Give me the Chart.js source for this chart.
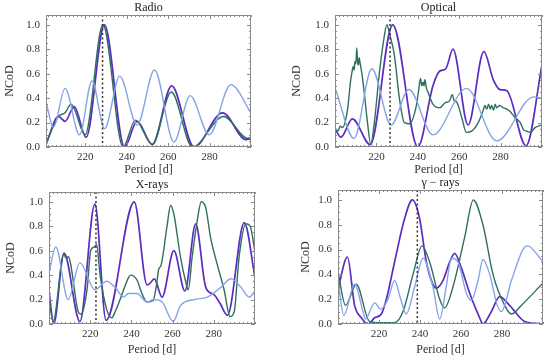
<!DOCTYPE html>
<html>
<head>
<meta charset="utf-8">
<script src="https://cdn.jsdelivr.net/npm/chart.js@4/dist/chart.umd.min.js"></script>
<style>
  body { margin: 0; background: #fff; }
  #wrap { position: relative; width: 550px; height: 360px; overflow: hidden; }
  canvas { position: absolute; }
</style>
</head>
<body>
<div id="wrap">
  <canvas id="radio" width="275" height="180" style="left:0px;top:0px"></canvas>
  <canvas id="optical" width="263" height="180" style="left:287px;top:0px"></canvas>
  <canvas id="xrays" width="274" height="185" style="left:1px;top:175px"></canvas>
  <canvas id="gamma" width="254" height="185" style="left:296px;top:175px"></canvas>
</div>
<script>
// tick labels
const xTicks = [220, 240, 260, 280]
const yTicks = [0, 0.2, 0.4, 0.6, 0.8, 1.0]

// period of the peak (dotted line) per band
const peakRadio = 228.3
const peakOptical = 226.6
const peakXrays = 222.8
const peakGamma = 238.7

// Radio  [period, NCoD]
const radioBlue = [[201,0.37],[204.6,0.16],[210.2,0.48],[217.2,0.10],[223.2,0.54],[229.3,0.15],[236.6,0.58],[245,0.18],[253.4,0.63],[262.8,0.04],[270.6,0.42],[279.8,0.10],[290.3,0.51],[300,0.28]]
const radioGreen = [[201,0.03],[207,0.25],[210.2,0.28],[213.1,0.35],[219.9,0.10],[228.5,1.0],[238.2,0.0],[244.2,0.22],[252.3,0.02],[261.5,0.45],[271.7,0.0],[286.8,0.25],[298.5,0.07],[300,0.08]]
const radioPurple = [[201,0.02],[207,0.25],[210.2,0.21],[214.6,0.33],[220.4,0.08],[229.2,1.0],[238.9,0.0],[245,0.21],[252.3,0.02],[261.7,0.50],[272.5,0.0],[286.3,0.28],[297.6,0.06],[300,0.07]]

// Optical
const opticalBlue = [[200.3,0.47],[209.2,0.07],[217.8,0.64],[227.1,0.18],[235.7,0.47],[247.3,0.10],[263.5,0.48],[278.1,0.05],[296,0.41],[300,0.40]]
const opticalGreen = [[200.3,0.15],[201.5,0.13],[202.5,0.17],[203.6,0.16],[206,0.3],[207.6,0.55],[208.3,0.62],[208.8,0.66],[209.3,0.63],[209.6,0.70],[210.1,0.68],[210.5,0.81],[210.9,0.70],[211.3,0.67],[211.7,0.73],[212,0.70],[213,0.60],[214.1,0.45],[215.7,0.2],[217.3,0.02],[219,0.2],[221.4,0.6],[223.3,0.85],[225.1,1.0],[226.3,0.93],[228.7,0.75],[231.1,0.4],[233.5,0.2],[236,0.19],[239.2,0.33],[240.3,0.45],[241.3,0.56],[241.9,0.50],[242.5,0.53],[243,0.50],[243.4,0.55],[244.2,0.48],[244.9,0.45],[247.3,0.35],[250.6,0.32],[253,0.36],[255.4,0.38],[256.7,0.43],[257.5,0.38],[258.7,0.37],[261.1,0.25],[263.5,0.12],[266,0.13],[269.2,0.2],[271.6,0.3],[272.4,0.34],[273.3,0.31],[274.2,0.35],[275,0.31],[275.7,0.34],[276.6,0.30],[277.4,0.35],[278.1,0.32],[279.5,0.34],[281.4,0.32],[283,0.31],[284.6,0.29],[287,0.24],[289.5,0.2],[291.1,0.14],[292.5,0.13],[294.3,0.12],[296.8,0.16],[300,0.18]]
const opticalPurple = [[200.3,0.14],[202.8,0.08],[208.4,0.23],[217,0.02],[227.9,1.0],[240,0.0],[247.3,0.5],[250.5,0.62],[253.5,0.64],[257,0.80],[264.3,0.18],[271.9,0.78],[276.5,0.55],[279.7,0.47],[283,0.46],[292.3,0.01],[300,0.67]]

// X-rays
const xraysBlue = [[200,0.42],[203.3,0.63],[209.3,0.2],[215,0.5],[222.3,0.28],[228,0.35],[232.1,0.3],[236.2,0.22],[238.6,0.25],[242.7,0.25],[247.6,0.18],[250.8,0.2],[254.9,0.18],[260.3,0.02],[263.8,0.15],[270.4,0.2],[276.9,0.22],[283.4,0.3],[288.3,0.37],[293.2,0.3],[297.2,0.22],[300,0.27]]
const xraysGreen = [[200,0.2],[202,0.02],[207.2,0.57],[208.3,0.54],[209.3,0.55],[214.2,0.1],[215.5,0.08],[218.6,0.3],[220.2,0.6],[222,0.63],[223.1,0.65],[224.8,0.4],[228,0.12],[230.5,0.05],[232.1,0.1],[234.5,0.2],[238.6,0.38],[239.7,0.4],[242.7,0.36],[245.1,0.25],[247.6,0.18],[250.5,0.19],[252,0.3],[253.3,0.45],[254.4,0.48],[257.3,0.8],[259,0.97],[260.6,0.9],[263.8,0.55],[266.3,0.35],[267.6,0.28],[269.5,0.55],[272,0.85],[273.9,1.0],[276.1,0.95],[278.5,0.7],[281.8,0.48],[285,0.28],[287.9,0.06],[289.9,0.1],[292.3,0.55],[295.6,0.82],[297.7,0.8],[300,0.58]]
const xraysPurple = [[200,0.27],[202.3,0.0],[207.3,0.58],[215,0.02],[222.3,0.98],[227.7,0.03],[241.4,1.0],[247.6,0.32],[248.9,0.33],[251.1,0.37],[254.9,0.22],[260.6,0.60],[266,0.27],[271.2,0.82],[276.1,0.30],[280.1,0.24],[283,0.17],[286.6,0.07],[294.8,0.83],[300,0.38]]

// gamma-rays
const gammaBlue = [[200,0.35],[202.8,0.07],[208.1,0.32],[212.2,0.1],[213.3,0.04],[217.9,0.17],[220.8,0.12],[224.4,0.2],[227.6,0.35],[230.6,0.2],[233.3,0.08],[237.4,0.3],[241.5,0.53],[246.3,0.3],[249.6,0.04],[252.8,0.3],[255.3,0.53],[258.5,0.5],[262.6,0.25],[265,0.19],[268.3,0.35],[270.7,0.52],[274,0.4],[277.7,0.15],[279.7,0.1],[284.6,0.35],[290.2,0.6],[292.4,0.63],[300,0.5]]
const gammaGreen = [[200,0.42],[203.7,0.15],[208.9,0.32],[215.4,0.02],[221.1,0.01],[227.6,0.01],[231.7,0.1],[236.6,0.4],[241,0.63],[244.7,0.5],[249.6,0.2],[252,0.13],[256.1,0.3],[261.8,0.7],[266,1.0],[270.7,0.8],[275.6,0.4],[281.3,0.15],[284.6,0.08],[289.4,0.15],[300,0.33]]
const gammaPurple = [[200,0.28],[204.6,0.54],[208.1,0.15],[211.4,0.05],[214.6,0.0],[217.9,0.05],[221.1,0.08],[223.6,0.2],[227.6,0.5],[232.5,0.85],[236.3,1.0],[239.8,0.85],[243.1,0.5],[246.3,0.32],[248,0.29],[251.2,0.35],[254.5,0.5],[256.9,0.57],[260.2,0.45],[264.2,0.25],[269.1,0.05],[270.7,0.0],[274.8,0.1],[278.9,0.22],[283.7,0.15],[291.1,0.02],[300,0.0]]

const colBlue = '#86a4e6'
const colGreen = '#2f6f5f'
const colPurple = '#5a2dc0'
const serif = '"Liberation Serif", "DejaVu Serif", serif'

// box, dotted peak line, minor ticks and panel title
const framePlugin = {
  id: 'frame',
  afterDatasetsDraw(chart, args, opts) {
    const ctx = chart.ctx
    const a = chart.chartArea
    const x = chart.scales.x
    const y = chart.scales.y
    ctx.save()
    const px = x.getPixelForValue(opts.peak)
    ctx.strokeStyle = '#333'
    ctx.lineWidth = 1.5
    ctx.setLineDash([2, 2.5])
    ctx.beginPath()
    ctx.moveTo(px, a.top)
    ctx.lineTo(px, a.bottom)
    ctx.stroke()
    ctx.setLineDash([])

    ctx.strokeStyle = '#8a8a8a'
    ctx.lineWidth = 1
    ctx.strokeRect(a.left + 0.5, a.top + 0.5, a.width - 1, a.height - 1)
    ctx.beginPath()
    for (let d = Math.ceil(x.min / 2) * 2; d <= x.max; d += 2) {
      const p = Math.round(x.getPixelForValue(d)) + 0.5
      const len = xTicks.includes(d) ? 4 : 2
      ctx.moveTo(p, a.bottom); ctx.lineTo(p, a.bottom - len)
      ctx.moveTo(p, a.top); ctx.lineTo(p, a.top + len)
    }
    for (let i = 0; i <= 21; i++) {
      const v = i * 0.05
      const p = Math.round(y.getPixelForValue(v)) + 0.5
      const len = (i % 4 === 0) ? 4 : 2
      ctx.moveTo(a.left, p); ctx.lineTo(a.left + len, p)
      ctx.moveTo(a.right, p); ctx.lineTo(a.right - len, p)
    }
    ctx.stroke()

    ctx.fillStyle = '#222'
    ctx.font = '12px ' + serif
    ctx.textAlign = 'center'
    ctx.textBaseline = 'middle'
    ctx.fillText(opts.title, (a.left + a.right) / 2, a.top - 7)
    ctx.restore()
  }
}

function makePanel(id, title, peak, blue, green, purple, box) {
  const toXY = arr => arr.map(p => ({ x: p[0], y: p[1] }))
  const line = (data, color, w) => ({
    data: toXY(data),
    borderColor: color,
    borderWidth: w,
    pointRadius: 0,
    fill: false,
    cubicInterpolationMode: 'monotone'
  })
  new Chart(document.getElementById(id), {
    type: 'line',
    data: {
      datasets: [
        line(blue, colBlue, 1.4),
        line(green, colGreen, 1.4),
        line(purple, colPurple, 1.7)
      ]
    },
    options: {
      responsive: false,
      animation: false,
      layout: { padding: { top: box.top, right: box.right, left: 0, bottom: 0 } },
      plugins: {
        legend: { display: false },
        tooltip: { enabled: false },
        frame: { title: title, peak: peak }
      },
      scales: {
        x: {
          type: 'linear',
          min: box.xmin,
          max: 300,
          grid: { display: false, drawTicks: false },
          border: { display: false },
          afterBuildTicks: ax => { ax.ticks = xTicks.map(v => ({ value: v })) },
          afterFit: ax => { ax.height = box.xh },
          ticks: { padding: 4, color: '#333', font: { family: serif, size: 11 } },
          title: { display: true, text: 'Period [d]', color: '#333', padding: 3, font: { family: serif, size: 12 } }
        },
        y: {
          min: 0,
          max: 1.08,
          grid: { display: false, drawTicks: false },
          border: { display: false },
          afterBuildTicks: ax => { ax.ticks = yTicks.map(v => ({ value: v })) },
          afterFit: ax => { ax.width = box.yw },
          ticks: { padding: 6, color: '#333', font: { family: serif, size: 11 }, callback: v => v.toFixed(1) },
          title: { display: true, text: 'NCoD', color: '#333', padding: 3, font: { family: serif, size: 12 } }
        }
      }
    },
    plugins: [framePlugin]
  })
}

makePanel('radio', 'Radio', peakRadio, radioBlue, radioGreen, radioPurple, { top: 15, right: 24, yw: 46, xh: 33, xmin: 201 })
makePanel('optical', 'Optical', peakOptical, opticalBlue, opticalGreen, opticalPurple, { top: 15, right: 8, yw: 48, xh: 33, xmin: 200 })
makePanel('xrays', 'X-rays', peakXrays, xraysBlue, xraysGreen, xraysPurple, { top: 17, right: 20, yw: 48, xh: 36, xmin: 200 })
makePanel('gamma', 'γ − rays', peakGamma, gammaBlue, gammaGreen, gammaPurple, { top: 15, right: 7, yw: 42, xh: 36, xmin: 200 })
</script>
</body>
</html>
